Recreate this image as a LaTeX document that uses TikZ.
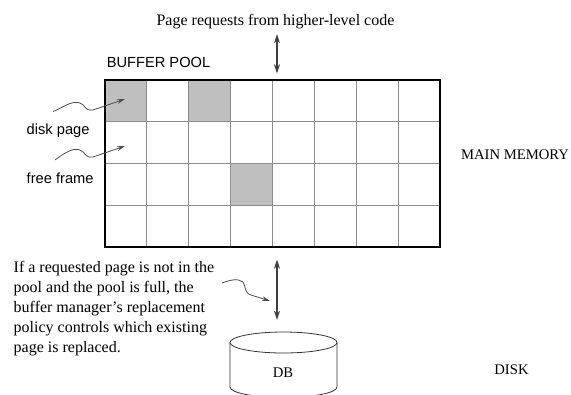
\documentclass[tikz,border=0pt]{standalone}
\usepackage{fontspec}
\setmainfont{Liberation Serif}
\newfontfamily\arialfont{Liberation Sans}
\usetikzlibrary{arrows.meta, calc, positioning, shapes.geometric}

\begin{document}
\begin{tikzpicture}[x=0.75pt, y=-0.75pt,
    serif/.style={font=\fontsize{12}{15}\selectfont},
    sans/.style={font=\arialfont\fontsize{11}{13}\selectfont},
    caps/.style={font=\fontsize{11}{13}\selectfont},
    flow/.style={{Stealth[length=7pt,width=4.5pt]}-{Stealth[length=7pt,width=4.5pt]}, draw=black!75, line width=1pt},
    wiggle/.style={-{Stealth[length=6pt,width=3.5pt]}, draw=black!70, line width=0.6pt},
    cellline/.style={draw=black!45, line width=0.8pt},
    used/.style={fill=black!25},
    drum/.style={draw=black!80, line width=0.6pt}]
    \useasboundingbox (0,0) rectangle (571,394);

    % buffer pool frames
    \foreach \c/\r in {0/0, 2/0, 3/2}
        \fill[used] ({105+\c*41.875},{80+\r*41.75}) rectangle +(41.875,41.75);
    \foreach \i in {1,...,7}
        \draw[cellline] ({105+\i*41.875},80) -- +(0,167);
    \foreach \j in {1,2,3}
        \draw[cellline] (105,{80+\j*41.75}) -- +(335,0);
    \node[draw, line width=2.2pt, minimum width=251.25pt, minimum height=125.25pt, inner sep=0pt] (pool) at (272.5,163.5) {};

    % labels
    \node[serif] (requests) at (275.5,22) {Page requests from higher-level code};
    \node[sans] (bufferpool) at (158.5,62) {BUFFER POOL};
    \node[sans, anchor=west] (diskpage) at (22,131) {disk page};
    \node[sans, anchor=west] (freeframe) at (22,178) {free frame};
    \node[caps] (mainmem) at (515,155) {MAIN MEMORY};
    \node[caps] (disk) at (511.5,370) {DISK};
    \node[serif, anchor=north west, align=left] (note) at (9,257)
        {If a requested page is not in the\\ pool and the pool is full, the\\ buffer manager's replacement\\ policy controls which existing\\ page is replaced.};

    % disk drum
    \draw[drum] (283.5,342.5) ellipse [x radius=53.5, y radius=10.5];
    \draw[drum] (230,342.5) -- (230,387) arc[start angle=180, end angle=0, x radius=53.5, y radius=10.5] -- (337,342.5);
    \coordinate (dbtop) at (283.5,332);
    \node[caps] (db) at (283,373) {DB};

    % arrows
    \draw[flow, shorten >=3.75pt] (requests.south -| 277,0) -- (pool.north -| 277,0);
    \draw[flow, shorten <=8.25pt, shorten >=9pt] (pool.south -| 277,0) -- (dbtop -| 277,0);

    \coordinate (pagecell) at (125,99);
    \coordinate (freecell) at (125,146);
    \coordinate (notestart) at (222,283);
    \coordinate (transfer) at (270,301);
    \draw[wiggle] ([xshift=-3.75pt, yshift=6pt]diskpage.north) .. controls (62,108) and (72,100) .. (80,103)
        .. controls (86,105) and (84,111) .. (93,110) -- (pagecell);
    \draw[wiggle] ([xshift=-3.75pt, yshift=6pt]freeframe.north) .. controls (62,155) and (72,147) .. (80,150)
        .. controls (86,152) and (84,158) .. (93,157) -- (freecell);
    \draw[wiggle] (notestart) .. controls (230,280) and (238,278) .. (243,282)
        .. controls (246,286) and (244,293) .. (251,295) -- (transfer);
\end{tikzpicture}
\end{document}
